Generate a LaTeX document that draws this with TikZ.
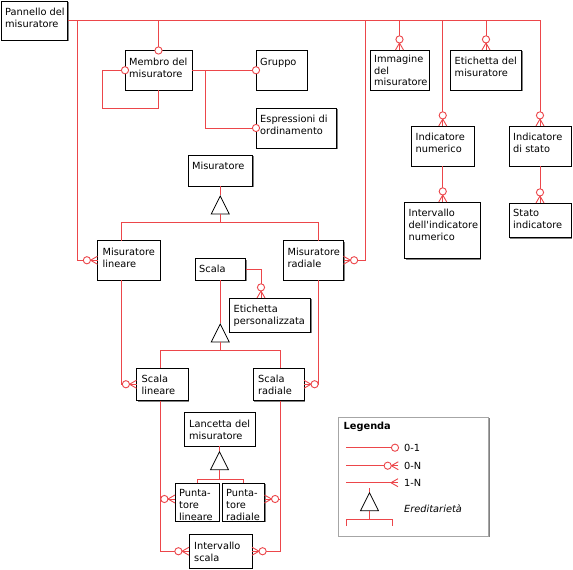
\documentclass[tikz,border=0pt]{standalone}
\usepackage{fontspec}
\setmainfont{DejaVu Sans}
\usetikzlibrary{shapes.geometric, shadows, decorations.markings}
\definecolor{relred}{RGB}{236,70,74}
\newcommand{\boxfont}{\fontsize{9.8}{11.9}\selectfont}

\begin{document}
\begin{tikzpicture}[x=1pt,y=-1pt,
  ent/.style={draw=black,fill=white,line width=0.8pt,anchor=north west,inner sep=0pt,outer sep=0pt,
    drop shadow={shadow xshift=1.3pt,shadow yshift=-1.3pt,fill=black!50,opacity=1}},
  lbl/.style={anchor=north west,align=left,inner sep=0pt,font=\boxfont},
  rel/.style={draw=relred,line width=1pt},
  inh/.style={draw=black,fill=white,line width=0.8pt,isosceles triangle,isosceles triangle stretches,
    shape border rotate=90,minimum width=18pt,minimum height=18pt,inner sep=0pt,anchor=apex},
  zeroone/.style={postaction={decorate,decoration={markings,mark=at position 1 with
    {\draw[relred,line width=0.9pt,fill=white] (0pt,0pt) circle (3.6pt);}}}},
  zeromany/.style={postaction={decorate,decoration={markings,mark=at position 1 with
    {\draw[relred,line width=0.9pt] (-7pt,0pt) -- (0pt,4pt) (-7pt,0pt) -- (0pt,-4pt);
     \draw[relred,line width=0.9pt,fill=white] (-10.6pt,0pt) circle (3.6pt);}}}},
  onemany/.style={postaction={decorate,decoration={markings,mark=at position 1 with
    {\draw[relred,line width=0.9pt] (-7pt,0pt) -- (0pt,4pt) (-7pt,0pt) -- (0pt,-4pt);}}}}]
  \useasboundingbox (0,0) rectangle (573,570);

  % entities
  \node[ent,minimum width=66.5pt,minimum height=39pt] (pan) at (1,1) {};
  \node[ent,minimum width=67pt,minimum height=39.5pt] (mem) at (125,50.5) {};
  \node[ent,minimum width=51pt,minimum height=39.5pt] (grp) at (256,50.5) {};
  \node[ent,minimum width=80.5pt,minimum height=40pt] (esp) at (256,108) {};
  \node[ent,minimum width=59pt,minimum height=40pt] (img) at (370,50) {};
  \node[ent,minimum width=71pt,minimum height=40pt] (eti) at (450.5,50) {};
  \node[ent,minimum width=62.5pt,minimum height=40pt] (inum) at (411.5,126) {};
  \node[ent,minimum width=62pt,minimum height=40pt] (ist) at (509,126) {};
  \node[ent,minimum width=75.5pt,minimum height=56.5pt] (iint) at (404.5,202) {};
  \node[ent,minimum width=62pt,minimum height=34.5pt] (sta) at (509,203) {};
  \node[ent,minimum width=64.5pt,minimum height=31pt] (mis) at (188,155) {};
  \node[ent,minimum width=62.5pt,minimum height=39.5pt] (mlin) at (97.5,240.5) {};
  \node[ent,minimum width=60pt,minimum height=39.5pt] (mrad) at (283.5,240.5) {};
  \node[ent,minimum width=50.5pt,minimum height=21.5pt] (sca) at (195,258.5) {};
  \node[ent,minimum width=81pt,minimum height=34pt] (epers) at (229.5,298) {};
  \node[ent,minimum width=51.5pt,minimum height=32.5pt] (slin) at (136.5,368) {};
  \node[ent,minimum width=51pt,minimum height=32.5pt] (srad) at (253,368) {};
  \node[ent,minimum width=71pt,minimum height=33.5pt] (lan) at (184,412.5) {};
  \node[ent,minimum width=44pt,minimum height=38pt] (plin) at (175,483) {};
  \node[ent,minimum width=42.5pt,minimum height=38pt] (prad) at (222,483) {};
  \node[ent,minimum width=63pt,minimum height=33.5pt] (isca) at (189,534.5) {};
  \node[ent,draw=black!35,minimum width=150pt,minimum height=119pt] (leg) at (338.5,417) {};

  \node[lbl] (tpan) at ([shift={(4,7.3)}]pan.north west) {Pannello del\\misuratore};
  \node[lbl] (tmem) at ([shift={(4,7.3)}]mem.north west) {Membro del\\misuratore};
  \node[lbl] (tgrp) at ([shift={(4,7.3)}]grp.north west) {Gruppo};
  \node[lbl] (tesp) at ([shift={(4,7.3)}]esp.north west) {Espressioni di\\ordinamento};
  \node[lbl] (timg) at ([shift={(4,4.5)}]img.north west) {Immagine\\del\\misuratore};
  \node[lbl] (teti) at ([shift={(4,7.3)}]eti.north west) {Etichetta del\\misuratore};
  \node[lbl] (tinum) at ([shift={(4,7.3)}]inum.north west) {Indicatore\\numerico};
  \node[lbl] (tist) at ([shift={(4,7.3)}]ist.north west) {Indicatore\\di stato};
  \node[lbl] (tiint) at ([shift={(4,7.3)}]iint.north west) {Intervallo\\dell\textquotesingle indicatore\\numerico};
  \node[lbl] (tsta) at ([shift={(4,6)}]sta.north west) {Stato\\indicatore};
  \node[lbl] (tmis) at ([shift={(4,7.3)}]mis.north west) {Misuratore};
  \node[lbl] (tmlin) at ([shift={(5,7.3)}]mlin.north west) {Misuratore\\lineare};
  \node[lbl] (tmrad) at ([shift={(4,7.3)}]mrad.north west) {Misuratore\\radiale};
  \node[lbl] (tsca) at ([shift={(4,6.5)}]sca.north west) {Scala};
  \node[lbl] (tepers) at ([shift={(4,7.3)}]epers.north west) {Etichetta\\personalizzata};
  \node[lbl] (tslin) at ([shift={(5,7.3)}]slin.north west) {Scala\\lineare};
  \node[lbl] (tsrad) at ([shift={(5,7.3)}]srad.north west) {Scala\\radiale};
  \node[lbl] (tlan) at ([shift={(5,7.3)}]lan.north west) {Lancetta del\\misuratore};
  \node[lbl] (tplin) at ([shift={(4,6)}]plin.north west) {Punta-\\tore\\lineare};
  \node[lbl] (tprad) at ([shift={(4,6)}]prad.north west) {Punta-\\tore\\radiale};
  \node[lbl] (tisca) at ([shift={(5,7.3)}]isca.north west) {Intervallo\\scala};

  % relations from the panel
  \coordinate (jl) at (77,20.5);
  \coordinate (jr) at (365.5,20.5);
  \draw[rel,zeromany] (pan.east) -| (ist.north);
  \draw[rel,zeromany] (jl) |- (mlin.west);
  \draw[rel,zeromany] (jr) |- (mrad.east);
  \draw[rel,zeroone] (mem.north |- pan.east) -- (mem.north);
  \draw[rel,zeromany] (img.north |- pan.east) -- (img.north);
  \draw[rel,zeromany] (eti.north |- pan.east) -- (eti.north);
  \draw[rel,zeromany] (inum.north |- pan.east) -- (inum.north);
  \draw[rel,zeromany] (inum.south) -- (inum.south |- iint.north);
  \draw[rel,zeromany] (ist.south) -- (sta.north);

  % member
  \draw[rel,zeroone] (mem.south) -- ++(0,18) -| ([xshift=-23pt]mem.west) -- (mem.west);
  \draw[rel,zeroone] (mem.east) -- (grp.west);
  \draw[rel,zeroone] ([xshift=13.5pt]mem.east) |- (esp.west);

  % gauge hierarchy
  \node[inh] (hmis) at ([yshift=-9pt]mis.south) {};
  \draw[rel] (mis.south) -- (hmis.apex);
  \draw[rel] (hmis.lower side) -- ++(0,8.5);
  \draw[rel] ([xshift=-7pt]mlin.north) |- ([yshift=-8.5pt]hmis.lower side) -| ([xshift=5pt]mrad.north);

  % scale
  \draw[rel,zeromany] (sca.east) -| ([xshift=-9pt]epers.north);
  \node[inh] (hsca) at ([yshift=-43pt]sca.south) {};
  \draw[rel] (sca.south) -- (hsca.apex);
  \draw[rel] (hsca.lower side) -- ++(0,8.3);
  \draw[rel] ([xshift=-1.5pt]slin.north) |- ([yshift=-8.3pt]hsca.lower side) -| ([xshift=1.5pt]srad.north);
  \draw[rel,zeromany] ([xshift=-7pt]mlin.south) |- (slin.west);
  \draw[rel,zeromany] ([xshift=5pt]mrad.south) |- (srad.east);

  % pointer
  \node[inh] (hlan) at ([yshift=-4.7pt]lan.south) {};
  \draw[rel] (lan.south) -- (hlan.apex);
  \draw[rel] (hlan.lower side) -- ++(0,9);
  \draw[rel] (plin.north) |- ([yshift=-9pt]hlan.lower side) -| (prad.north);
  \draw[rel,zeromany] ([xshift=-1.5pt]slin.south) |- (isca.west);
  \draw[rel,zeromany] ([xshift=1.5pt]srad.south) |- (isca.east);
  \draw[rel,zeromany] ([shift={(-1.5,-3)}]slin.south |- plin.west) -- ([yshift=3pt]plin.west);
  \draw[rel,zeromany] ([shift={(1.5,-3)}]srad.south |- prad.east) -- ([yshift=3pt]prad.east);

  % legend
  \node[anchor=base west,inner sep=0pt,font=\boxfont\bfseries] (tleg) at ([shift={(5,12)}]leg.north west) {Legenda};
  \draw[rel,zeroone] ([shift={(7.5,30.7)}]leg.north west) -- ++(49,0);
  \draw[rel,zeromany] ([shift={(7.5,48.7)}]leg.north west) -- ++(52.3,0);
  \draw[rel,onemany] ([shift={(7.5,65.7)}]leg.north west) -- ++(52,0);
  \node[lbl,anchor=west] (l01) at ([shift={(65.5,30.7)}]leg.north west) {0-1};
  \node[lbl,anchor=west] (l0n) at ([shift={(65.5,48.7)}]leg.north west) {0-N};
  \node[lbl,anchor=west] (l1n) at ([shift={(65.5,65.7)}]leg.north west) {1-N};
  \node[inh] (hleg) at ([shift={(31,74.7)}]leg.north west) {};
  \draw[rel] (hleg.apex) -- ++(0,-4);
  \draw[rel] (hleg.lower side) -- ++(0,8.3) coordinate (lbr);
  \draw[rel] ([shift={(-22.8,6.7)}]lbr) -- ([xshift=-22.8pt]lbr) -- ([xshift=22.8pt]lbr) -- ([shift={(22.8,6.7)}]lbr);
  \node[lbl,anchor=west,font=\boxfont\itshape] (lher) at ([shift={(65.5,92)}]leg.north west) {Ereditarietà};
\end{tikzpicture}
\end{document}
